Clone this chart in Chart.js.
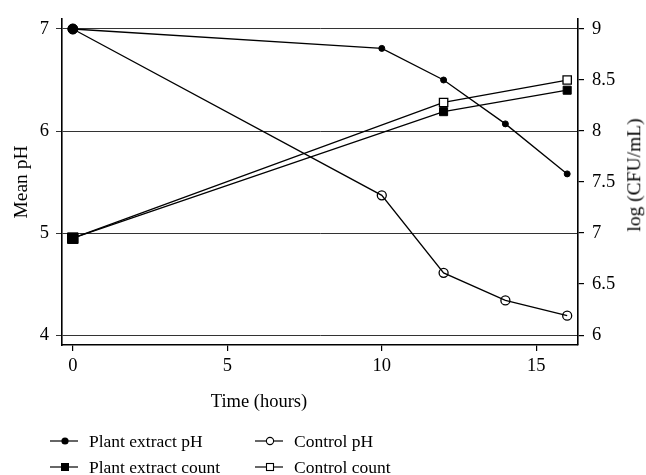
<!DOCTYPE html>
<html><head><meta charset="utf-8">
<script src="https://cdn.jsdelivr.net/npm/chart.js@4"></script>
<style>
html,body{margin:0;padding:0;background:#fff;}
#wrap{position:relative;width:646px;height:475px;font-family:'Liberation Serif',serif;color:#000;overflow:hidden;}
canvas{position:absolute;left:0;top:0;}
.lbl{position:absolute;white-space:nowrap;line-height:1;}
.item{position:absolute;height:20px;display:flex;align-items:center;font-size:17.5px;white-space:nowrap;}
.item svg{margin-right:11px;}
</style></head><body>
<div id="wrap"><canvas id="c" width="646" height="475"></canvas>
<div id="xt" class="lbl"></div><div id="yt2" class="lbl"></div><div id="leg"></div></div>
<script>
const timeTicks = [0, 5, 10, 15];
const phTicks = [4, 5, 6, 7];
const countTicks = [6, 6.5, 7, 7.5, 8, 8.5, 9];
const phTimes = [0, 10, 12, 14, 16];
const plantPH = [7.0, 6.81, 6.50, 6.07, 5.58];
const controlPH = [7.0, 5.37, 4.61, 4.34, 4.19];
const countTimes = [0, 12, 16];
const plantCount = [6.95, 8.19, 8.40];
const controlCount = [6.95, 8.28, 8.50];
const seriesLabels = ['Plant extract pH', 'Control pH', 'Plant extract count', 'Control count'];
const xTitle = 'Time (hours)';
const yTitle = 'Mean pH';
const y2Title = 'log (CFU/mL)';

const pts = (xs, ys) => xs.map((x, i) => ({x: x, y: ys[i]}));
const FONT = 'Liberation Serif';
Chart.defaults.font.family = FONT;
Chart.defaults.color = '#000';
const plain = v => String(v);

new Chart(document.getElementById('c'), {
  type: 'line',
  data: {
    datasets: [
      {label: seriesLabels[0], data: pts(phTimes, plantPH), yAxisID: 'y',
       borderColor: '#000', borderWidth: 1.3, pointStyle: 'circle',
       pointRadius: c => c.dataIndex === 0 ? 5 : 3, pointBackgroundColor: '#000', pointBorderColor: '#000', pointBorderWidth: 1},
      {label: seriesLabels[1], data: pts(phTimes, controlPH), yAxisID: 'y',
       borderColor: '#000', borderWidth: 1.3, pointStyle: 'circle',
       pointRadius: 4.5, pointBackgroundColor: 'rgba(0,0,0,0)', pointBorderColor: '#000', pointBorderWidth: 1.3},
      {label: seriesLabels[2], data: pts(countTimes, plantCount), yAxisID: 'y1',
       borderColor: '#000', borderWidth: 1.3, pointStyle: 'rect',
       pointRadius: c => c.dataIndex === 0 ? 7.5 : 5.7, pointBackgroundColor: '#000', pointBorderColor: '#000', pointBorderWidth: 1},
      {label: seriesLabels[3], data: pts(countTimes, controlCount), yAxisID: 'y1',
       borderColor: '#000', borderWidth: 1.3, pointStyle: 'rect',
       pointRadius: 5.9, pointBackgroundColor: '#fff', pointBorderColor: '#000', pointBorderWidth: 1.3}
    ]
  },
  options: {
    responsive: false,
    animation: false,
    layout: {padding: {top: 15, bottom: 100, left: 0, right: 0}},
    plugins: {legend: {display: false}, tooltip: {enabled: false}},
    elements: {line: {tension: 0}},
    scales: {
      x: {
        type: 'linear', min: -0.35, max: 16.35,
        afterBuildTicks: s => { s.ticks = timeTicks.map(v => ({value: v})); },
        afterFit: s => { s.height = 30; },
        grid: {drawOnChartArea: false, drawTicks: true, tickLength: 6, color: '#000', lineWidth: 1.2},
        border: {display: true, color: '#000', width: 1.6},
        ticks: {font: {size: 18.5, family: FONT}, padding: 4, color: '#000', maxRotation: 0, callback: plain}
      },
      y: {
        type: 'linear', position: 'left', min: 3.903, max: 7.097,
        afterBuildTicks: s => { s.ticks = phTicks.map(v => ({value: v})); },
        afterFit: s => { s.width = 62; },
        grid: {drawOnChartArea: true, drawTicks: true, tickLength: 6, color: '#333', lineWidth: 1},
        border: {display: true, color: '#000', width: 1.6},
        ticks: {font: {size: 18.5, family: FONT}, padding: 7, color: '#000', callback: plain},
        title: {display: true, text: yTitle, font: {size: 19.5, family: FONT}, color: '#000', padding: {top: 10, bottom: 0}}
      },
      y1: {
        type: 'linear', position: 'right', min: 5.903, max: 9.097,
        afterBuildTicks: s => { s.ticks = countTicks.map(v => ({value: v})); },
        afterFit: s => { s.width = 68; },
        grid: {drawOnChartArea: false, drawTicks: true, tickLength: 6, color: '#000', lineWidth: 1.2},
        border: {display: true, color: '#000', width: 1.6},
        ticks: {font: {size: 18.5, family: FONT}, padding: 8, color: '#000', callback: plain}
      }
    }
  }
});

// axis titles placed like the reference
const xt = document.getElementById('xt');
xt.textContent = xTitle;
xt.style.cssText += 'font-size:18.5px;left:259px;top:401px;transform:translate(-50%,-50%);';
const yt2 = document.getElementById('yt2');
yt2.textContent = y2Title;
yt2.style.cssText += 'font-size:19.5px;left:634px;top:175px;transform:translate(-50%,-50%) rotate(-90deg);';

// legend
const marks = [
  '<circle cx="15" cy="10" r="3.6" fill="#000"/>',
  '<circle cx="15" cy="10" r="3.6" fill="#fff" stroke="#000" stroke-width="1.1"/>',
  '<rect x="11" y="6" width="8" height="8" fill="#000"/>',
  '<rect x="11.5" y="6.5" width="7" height="7" fill="#fff" stroke="#000" stroke-width="1.1"/>'
];
const slots = [[50, 441], [255, 441], [50, 467], [255, 467]];
const leg = document.getElementById('leg');
seriesLabels.forEach((lab, i) => {
  const d = document.createElement('div');
  d.className = 'item';
  d.style.left = slots[i][0] + 'px';
  d.style.top = (slots[i][1] - 10) + 'px';
  d.innerHTML = '<svg width="28" height="20"><line x1="0" y1="10" x2="28" y2="10" stroke="#000" stroke-width="1.2"/>' + marks[i] + '</svg><span>' + lab + '</span>';
  leg.appendChild(d);
});
</script>
</body></html>
